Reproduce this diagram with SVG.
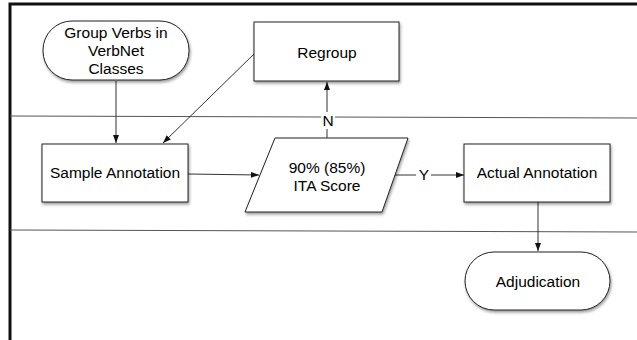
<svg xmlns="http://www.w3.org/2000/svg" width="637" height="340" viewBox="0 0 637 340">
<defs>
<style>
.box{fill:#fff;stroke:#222;stroke-width:1;filter:url(#sh)}
.t{font-family:"Liberation Sans",Arial,sans-serif;font-size:15.5px;fill:#000;text-anchor:middle}
.c{fill:none;stroke:#333;stroke-width:1}
.lane{stroke:#555;stroke-width:1;fill:none}
</style>
<filter id="sh" x="-10%" y="-10%" width="130%" height="140%">
<feDropShadow dx="1" dy="2" stdDeviation="1.5" flood-color="#000" flood-opacity="0.4"/>
</filter>
<marker id="ah" markerWidth="8" markerHeight="8" refX="8" refY="4" orient="auto" markerUnits="userSpaceOnUse">
<path d="M0,1 L8,4 L0,7 Z" fill="#111"/>
</marker>
</defs>
<rect width="637" height="340" fill="#fff"/>
<g id="frame">
<path d="M10,340 L10,4 L637,4" fill="none" stroke="#111" stroke-width="3"/>
<line class="lane" x1="10" y1="116" x2="637" y2="118"/>
<line class="lane" x1="10" y1="230" x2="637" y2="232"/>
</g>
<g id="connectors">
<line class="c" x1="116" y1="81" x2="116" y2="143" marker-end="url(#ah)"/>
<line class="c" x1="254" y1="54" x2="163" y2="143" marker-end="url(#ah)"/>
<line class="c" x1="188" y1="174" x2="259" y2="175" marker-end="url(#ah)"/>
<line class="c" x1="327" y1="138" x2="327" y2="82" marker-end="url(#ah)"/>
<line class="c" x1="395" y1="175" x2="464" y2="175" marker-end="url(#ah)"/>
<line class="c" x1="538" y1="202" x2="538" y2="251" marker-end="url(#ah)"/>
<rect x="321" y="112" width="14" height="17" fill="#fff"/>
<text class="t" x="328" y="126">N</text>
<rect x="416" y="166" width="15" height="17" fill="#fff"/>
<text class="t" x="424" y="180">Y</text>
</g>
<g id="group-verbs">
<rect class="box" x="43" y="21" width="146" height="59" rx="29" ry="29"/>
<text class="t" x="116" y="38">Group Verbs in</text>
<text class="t" x="116" y="56">VerbNet</text>
<text class="t" x="116" y="74">Classes</text>
</g>
<g id="regroup">
<rect class="box" x="254" y="22" width="145" height="59"/>
<text class="t" x="327" y="58">Regroup</text>
</g>
<g id="sample-annotation">
<rect class="box" x="42" y="144" width="146" height="58"/>
<text class="t" x="115" y="178">Sample Annotation</text>
</g>
<g id="ita-score">
<polygon class="box" points="275,138 408,138 382,212 245,212"/>
<text class="t" x="327" y="173">90% (85%)</text>
<text class="t" x="327" y="191">ITA Score</text>
</g>
<g id="actual-annotation">
<rect class="box" x="464" y="144" width="146" height="58"/>
<text class="t" x="537" y="178">Actual Annotation</text>
</g>
<g id="adjudication">
<rect class="box" x="465" y="252" width="145" height="58" rx="29" ry="29"/>
<text class="t" x="538" y="287">Adjudication</text>
</g>
</svg>
